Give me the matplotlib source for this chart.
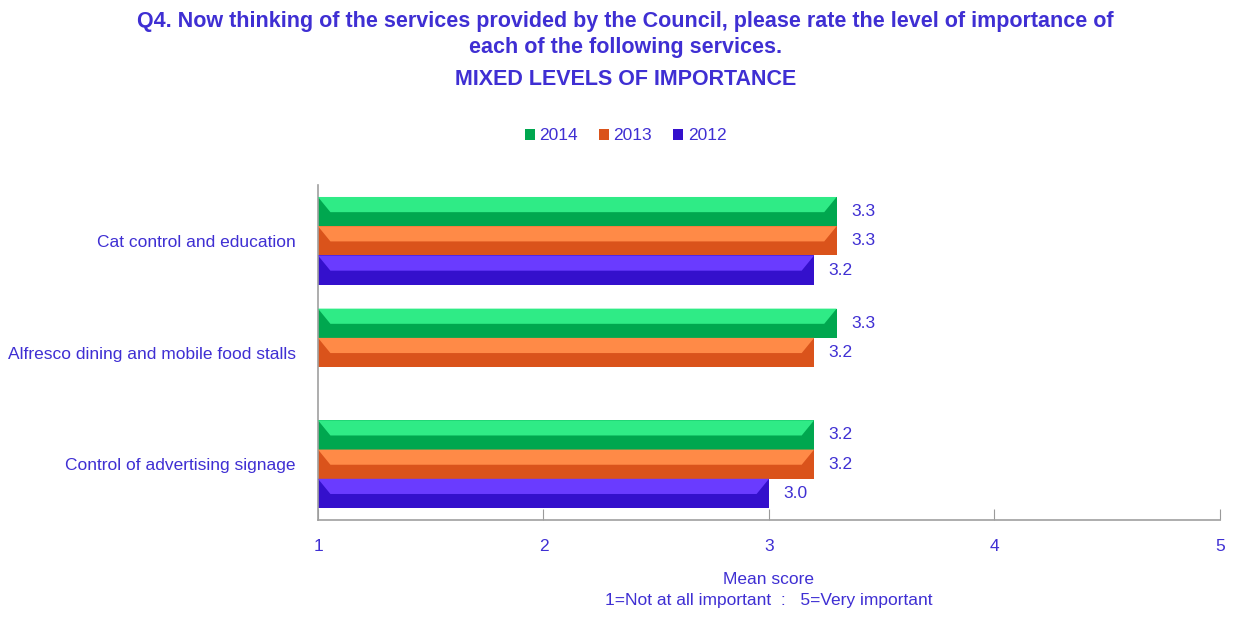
import numpy as np
import matplotlib.pyplot as plt
from matplotlib.patches import Patch, Polygon

plt.rcParams['font.family'] = ['Liberation Sans Narrow', 'Liberation Sans', 'DejaVu Sans']

services = ['Cat control and education',
            'Alfresco dining and mobile food stalls',
            'Control of advertising signage']
years = ['2014', '2013', '2012']
score_2014 = [3.3, 3.3, 3.2]
score_2013 = [3.3, 3.2, 3.2]
score_2012 = [3.2, np.nan, 3.0]  # no 2012 result for alfresco dining

# light (top face) and dark (lower face) shade for each year
light = ['#2FEB86', '#FF8A47', '#6A3BFF']
dark = ['#00A74F', '#DA531B', '#3410CC']
text_col = '#3F2FD3'

fig = plt.figure(figsize=(12.51, 6.4), dpi=100)
ax = fig.add_axes([0.2542, 0.1875, 0.7210, 0.5234])

base = 1
bar_h = 0.262
y = np.arange(len(services))
offsets = [-bar_h, 0, bar_h]
series = [score_2014, score_2013, score_2012]

for k, vals in enumerate(series):
    for i, v in enumerate(vals):
        if np.isnan(v):
            continue
        yc = y[i] + offsets[k]
        ax.barh(yc, v - base, left=base, height=bar_h, color=dark[k], zorder=2)
        # bevelled lighter top face
        top = yc - bar_h / 2
        mid = yc + 0.005
        d = 0.055
        ax.add_patch(Polygon([(base, top), (v, top), (v - d, mid), (base + d, mid)],
                             closed=True, facecolor=light[k], edgecolor='none', zorder=3))
        ax.text(v + 0.065, yc, f'{v:.1f}', va='center', ha='left',
                fontsize=12.5, color=text_col)

ax.set_xlim(1, 5)
ax.set_ylim(len(services) - 0.5, -0.5)
ax.set_yticks(y)
ax.set_yticklabels(services, fontsize=12.5, color=text_col)
ax.set_xticks([1, 2, 3, 4, 5])
ax.set_xticklabels(['1', '2', '3', '4', '5'], fontsize=12.5, color=text_col)
ax.tick_params(axis='x', direction='in', length=8, color='#9A9A9A', pad=14)
ax.tick_params(axis='y', length=0, pad=16)
for side in ['top', 'right']:
    ax.spines[side].set_visible(False)
for side in ['left', 'bottom']:
    ax.spines[side].set_color('#A0A0A0')
    ax.spines[side].set_linewidth(1.2)

ax.set_xlabel('Mean score\n1=Not at all important  :   5=Very important',
              fontsize=12.5, color=text_col, labelpad=13, linespacing=1.5)

handles = [Patch(facecolor=dark[k], edgecolor='none', label=years[k]) for k in range(3)]
fig.legend(handles=handles, loc='center', bbox_to_anchor=(0.5, 0.788), ncol=3,
           frameon=False, fontsize=12.5, labelcolor=text_col,
           handlelength=0.6, handleheight=0.6, handletextpad=0.25, columnspacing=1.2)

fig.text(0.5, 0.967, 'Q4. Now thinking of the services provided by the Council, please rate the level of importance of',
         ha='center', va='center', fontsize=15.5, fontweight='bold', color=text_col)
fig.text(0.5, 0.925, 'each of the following services.',
         ha='center', va='center', fontsize=15.5, fontweight='bold', color=text_col)
fig.text(0.5, 0.876, 'MIXED LEVELS OF IMPORTANCE',
         ha='center', va='center', fontsize=15.5, fontweight='bold', color=text_col)

fig.savefig('out.png', dpi=100, facecolor='white')
